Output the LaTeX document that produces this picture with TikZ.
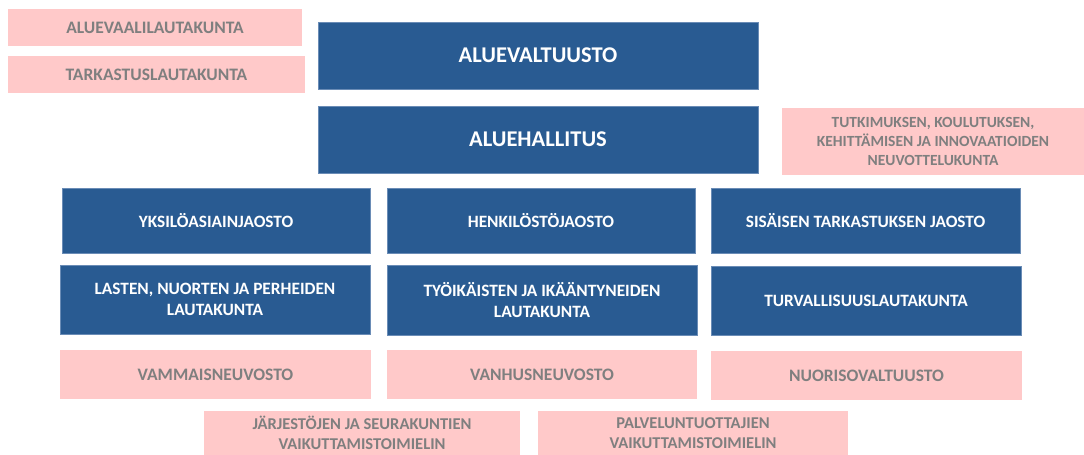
\documentclass[tikz,border=0pt]{standalone}
\usepackage{fontspec}
\setmainfont{Carlito}
\definecolor{orgblue}{HTML}{295B92}
\definecolor{orgedge}{HTML}{6A8CB6}
\definecolor{orgpink}{HTML}{FFC9C9}
\definecolor{orggray}{HTML}{7F7F7F}
\begin{document}
\begin{tikzpicture}[x=1pt,y=-1pt,
  bluebox/.style={fill=orgblue,draw=orgedge,line width=0.6pt,text=white,font=\bfseries\fontsize{17.3}{21}\selectfont,align=center,inner sep=0pt},
  bigbox/.style={bluebox,font=\bfseries\fontsize{22.5}{26}\selectfont},
  pinkbox/.style={fill=orgpink,draw=none,text=orggray,font=\bfseries\fontsize{17.5}{21}\selectfont,align=center,inner sep=0pt},
  smallpink/.style={pinkbox,font=\bfseries\fontsize{15.5}{19}\selectfont},
  lowpink/.style={pinkbox,font=\bfseries\fontsize{16.5}{20}\selectfont},
  sz/.style n args={2}{minimum width=#1pt,minimum height=#2pt}]
\useasboundingbox (0,0) rectangle (1084,455);
\node[pinkbox,sz={294}{37}] (alv) at (155,27.5) {ALUEVAALILAUTAKUNTA};
\node[pinkbox,sz={297}{37}] (tark) at (156.5,74.5) {TARKASTUSLAUTAKUNTA};
\node[bigbox,sz={440}{67}] (valt) at (538,55.5) {ALUEVALTUUSTO};
\node[bigbox,sz={440}{67}] (hall) at (538,139.5) {ALUEHALLITUS};
\node[smallpink,sz={302}{67}] (tutk) at (933,141.5) {TUTKIMUKSEN, KOULUTUKSEN,\\KEHITTÄMISEN JA INNOVAATIOIDEN\\NEUVOTTELUKUNTA};
\node[bluebox,sz={308}{65}] (yks) at (216,220.5) {YKSILÖASIAINJAOSTO};
\node[bluebox,sz={308}{65}] (henk) at (541,220.5) {HENKILÖSTÖJAOSTO};
\node[bluebox,sz={309}{65}] (sis) at (865.5,220.5) {SISÄISEN TARKASTUKSEN JAOSTO};
\node[bluebox,sz={310}{69}] (last) at (215,299.5) {LASTEN, NUORTEN JA PERHEIDEN\\LAUTAKUNTA};
\node[bluebox,sz={310}{70}] (tyo) at (542,300) {TYÖIKÄISTEN JA IKÄÄNTYNEIDEN\\LAUTAKUNTA};
\node[bluebox,sz={310}{69}] (turv) at (866,300.5) {TURVALLISUUSLAUTAKUNTA};
\node[pinkbox,sz={311}{49}] (vamm) at (215.5,374.5) {VAMMAISNEUVOSTO};
\node[pinkbox,sz={310}{49}] (vanh) at (542,374.5) {VANHUSNEUVOSTO};
\node[pinkbox,sz={311}{49}] (nuor) at (866.5,375.5) {NUORISOVALTUUSTO};
\node[lowpink,sz={316}{44}] (jarj) at (362,433) {JÄRJESTÖJEN JA SEURAKUNTIEN\\VAIKUTTAMISTOIMIELIN};
\node[lowpink,sz={310}{44}] (palv) at (693,433) {PALVELUNTUOTTAJIEN\\VAIKUTTAMISTOIMIELIN};
\end{tikzpicture}
\end{document}
